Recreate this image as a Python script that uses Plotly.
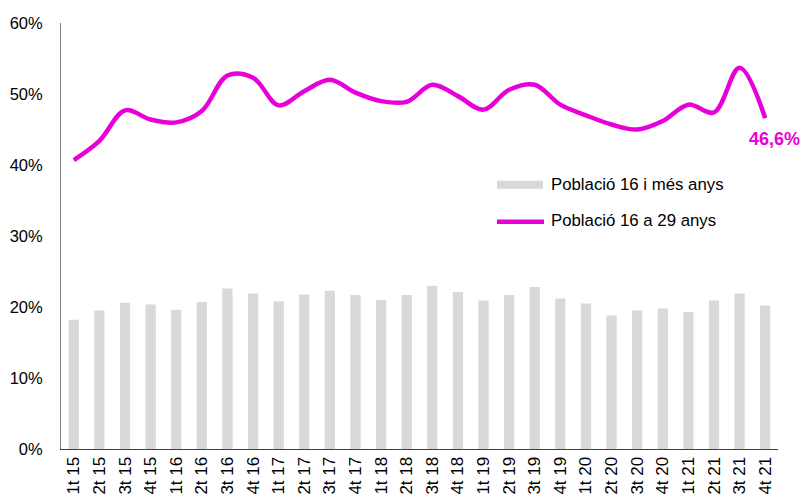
import plotly.graph_objects as go

quarters = ["1t 15", "2t 15", "3t 15", "4t 15",
            "1t 16", "2t 16", "3t 16", "4t 16",
            "1t 17", "2t 17", "3t 17", "4t 17",
            "1t 18", "2t 18", "3t 18", "4t 18",
            "1t 19", "2t 19", "3t 19", "4t 19",
            "1t 20", "2t 20", "3t 20", "4t 20",
            "1t 21", "2t 21", "3t 21", "4t 21"]

# Població 16 i més anys (%)
pob_16_mes = [18.2, 19.5, 20.6, 20.35, 19.6, 20.7, 22.6, 21.9,
              20.8, 21.75, 22.3, 21.7, 21.0, 21.7, 23.0, 22.1,
              20.9, 21.7, 22.8, 21.2, 20.5, 18.8, 19.5, 19.8,
              19.3, 20.9, 21.9, 20.2]

# Població 16 a 29 anys (%)
pob_16_29 = [40.7, 43.4, 47.7, 46.4, 46.0, 47.6, 52.6, 52.3,
             48.4, 50.4, 52.0, 50.2, 49.0, 48.9, 51.3, 49.7,
             47.8, 50.6, 51.3, 48.5, 47.0, 45.7, 45.0, 46.2,
             48.5, 47.4, 53.7, 46.6]

names = ["Població 16 i més anys", "Població 16 a 29 anys"]

magenta = "#E800D8"
gray = "#D9D9D9"
font_family = "Liberation Sans, Arial, sans-serif"

W, H = 801, 497
L, R, T, B = 61, 23, 23, 47.5


def px(x):
    return (x - L) / (W - L - R)


def py(y):
    return (H - B - y) / (H - T - B)


fig = go.Figure()

fig.add_trace(go.Bar(
    x=quarters, y=[v / 100 for v in pob_16_mes],
    name=names[0],
    marker=dict(color=gray, line=dict(width=0)),
    width=0.4,
))

fig.add_trace(go.Scatter(
    x=quarters, y=[v / 100 for v in pob_16_29],
    name=names[1],
    mode="lines",
    line=dict(color=magenta, width=4.5, shape="spline", smoothing=1.0),
))

# etiqueta de l'últim valor
fig.add_annotation(
    x=quarters[-1], y=pob_16_29[-1] / 100,
    text="<b>46,6%</b>",
    showarrow=False,
    xshift=9, yshift=-21,
    font=dict(color=magenta, size=18, family=font_family),
)

# llegenda feta a mà
fig.add_shape(type="rect", xref="paper", yref="paper",
              x0=px(497), x1=px(543), y0=py(189), y1=py(181),
              fillcolor=gray, line=dict(width=0), layer="above")
fig.add_shape(type="line", xref="paper", yref="paper",
              x0=px(497), x1=px(544), y0=py(222), y1=py(222),
              line=dict(color=magenta, width=4.5), layer="above")
for name, yy in zip(names, [185, 221]):
    fig.add_annotation(
        xref="paper", yref="paper", x=px(549), y=py(yy),
        xanchor="left", yanchor="middle", showarrow=False,
        text=name, font=dict(size=16.8, color="#000000", family=font_family),
    )

fig.update_layout(
    width=W, height=H,
    autosize=False,
    margin=dict(l=L, r=R, t=T, b=B, autoexpand=False),
    plot_bgcolor="white",
    paper_bgcolor="white",
    font=dict(family=font_family, size=14, color="#000000"),
    showlegend=False,
)

fig.update_xaxes(
    type="category",
    range=[-0.5, len(quarters) - 0.5],
    tickangle=-90,
    showline=True, linecolor="#404040", linewidth=1,
    showgrid=False,
    ticks="",
    tickfont=dict(size=17),
    automargin=False,
)

fig.update_yaxes(
    range=[0, 0.6],
    dtick=0.1,
    tickformat=".0%",
    showline=True, linecolor="#808080", linewidth=1,
    showgrid=False,
    zeroline=False,
    ticks="",
    ticklabelstandoff=14,
    tickfont=dict(size=16.5),
    automargin=False,
)

# treu el marge per defecte del body perquè la figura quedi a (0, 0)
fig.write_html("out.html", config={"displayModeBar": False},
               post_script="document.body.style.margin='0';")
